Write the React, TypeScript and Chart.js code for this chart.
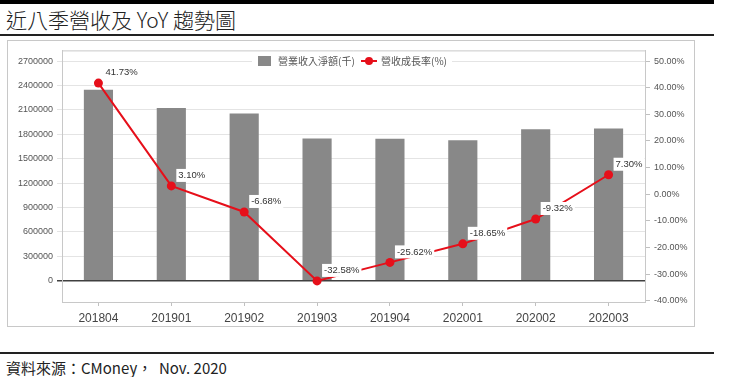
import React, { useEffect, useRef } from "react";
import { Chart, registerables } from "chart.js";

Chart.register(...registerables);

const categories = ["201804", "201901", "201902", "201903", "201904", "202001", "202002", "202003"];
const revenue = [2349000, 2123000, 2055000, 1748000, 1746000, 1727000, 1862000, 1871000];
const yoy = [41.73, 3.1, -6.68, -32.58, -25.62, -18.65, -9.32, 7.3];
const leftTicks = [0, 300000, 600000, 900000, 1200000, 1500000, 1800000, 2100000, 2400000, 2700000];
const rightTicks = [-40, -30, -20, -10, 0, 10, 20, 30, 40, 50];
const legendLabels = ["營業收入淨額(千)", "營收成長率(%)"];

const BAR = "#888888";
const RED = "#e60f1a";
const TICK_FONT = "'Liberation Sans', Arial, sans-serif";
const CJK = "'Noto Sans CJK TC', 'Noto Sans', sans-serif";

const extras = {
  id: "extras",
  beforeDatasetsDraw(chart: any) {
    const { ctx, chartArea: a } = chart;
    ctx.save();
    ctx.strokeStyle = "#c8c8c8";
    ctx.lineWidth = 1;
    ctx.beginPath();
    ctx.moveTo(a.left, a.top + 0.5);
    ctx.lineTo(a.right, a.top + 0.5);
    ctx.stroke();
    ctx.restore();
  },
  afterDatasetsDraw(chart: any) {
    const { ctx } = chart;
    const meta = chart.getDatasetMeta(1);
    ctx.save();
    ctx.font = `9.5px ${TICK_FONT}`;
    ctx.textBaseline = "middle";
    ctx.textAlign = "left";
    meta.data.forEach((pt: any, i: number) => {
      const txt = yoy[i].toFixed(2) + "%";
      const w = ctx.measureText(txt).width;
      const x = pt.x + 7;
      const y = pt.y - 10.5;
      ctx.fillStyle = "#ffffff";
      ctx.fillRect(x - 2, y - 6.5, w + 4, 13);
      ctx.fillStyle = "#333333";
      ctx.fillText(txt, x, y);
    });
    // legend
    const ly = 20;
    ctx.font = `10px ${CJK}`;
    ctx.fillStyle = "#ffffff";
    ctx.fillRect(244, ly - 7, 200, 14);
    ctx.fillStyle = BAR;
    ctx.fillRect(250, ly - 5, 13, 10);
    ctx.fillStyle = "#555555";
    ctx.fillText(legendLabels[0], 270, ly);
    ctx.strokeStyle = RED;
    ctx.lineWidth = 2;
    ctx.beginPath();
    ctx.moveTo(353, ly);
    ctx.lineTo(369, ly);
    ctx.stroke();
    ctx.fillStyle = RED;
    ctx.beginPath();
    ctx.arc(361, ly, 4, 0, Math.PI * 2);
    ctx.fill();
    ctx.fillStyle = "#555555";
    ctx.fillText(legendLabels[1], 373, ly);
    ctx.restore();
  },
};

export default function App() {
  const ref = useRef<HTMLCanvasElement>(null);
  useEffect(() => {
    if (!ref.current) return;
    const chart = new Chart(ref.current, {
      type: "bar",
      data: {
        labels: categories,
        datasets: [
          {
            type: "bar",
            label: legendLabels[0],
            data: revenue,
            backgroundColor: BAR,
            borderColor: "#7a7a7a",
            borderWidth: 0,
            barPercentage: 0.4,
            categoryPercentage: 1,
            yAxisID: "y",
            order: 2,
          },
          {
            type: "line",
            label: legendLabels[1],
            data: yoy,
            borderColor: RED,
            backgroundColor: RED,
            borderWidth: 2,
            pointRadius: 4.5,
            pointBackgroundColor: RED,
            pointBorderWidth: 0,
            yAxisID: "y1",
            order: 1,
          },
        ] as any,
      },
      options: {
        animation: false,
        responsive: false,
        maintainAspectRatio: false,
        layout: { padding: { top: 9, left: 0, right: 0, bottom: 0 } },
        plugins: { legend: { display: false }, tooltip: { enabled: false }, title: { display: false } },
        scales: {
          x: {
            offset: true,
            grid: { offset: false, drawOnChartArea: false, drawTicks: true, tickLength: 4, color: "#c0c0c0" },
            border: { color: "#c8c8c8" },
            ticks: { color: "#444", font: { family: TICK_FONT, size: 12 }, padding: 5, maxRotation: 0 },
            afterFit: (s: any) => { s.height = 24; },
          },
          y: {
            position: "left",
            min: -261500,
            max: 2831800,
            afterBuildTicks: (s: any) => { s.ticks = leftTicks.map((v) => ({ value: v })); },
            grid: {
              color: (c: any) => (c.tick && c.tick.value === 0 ? "#404040" : "#e4e4e4"),
              lineWidth: (c: any) => (c.tick && c.tick.value === 0 ? 1.5 : 1),
              tickLength: 5,
            },
            border: { color: "#c8c8c8" },
            ticks: { color: "#555", font: { family: TICK_FONT, size: 9 }, padding: 4, callback: (v: any) => String(v) },
            afterFit: (s: any) => { s.width = 54; },
          },
          y1: {
            position: "right",
            min: -40.5,
            max: 54,
            afterBuildTicks: (s: any) => { s.ticks = rightTicks.map((v) => ({ value: v })); },
            grid: { drawOnChartArea: false, tickLength: 5, color: "#c0c0c0" },
            border: { color: "#c8c8c8" },
            ticks: { color: "#555", font: { family: TICK_FONT, size: 9 }, padding: 4, callback: (v: any) => Number(v).toFixed(2) + "%" },
            afterFit: (s: any) => { s.width = 49; },
          },
        },
      } as any,
      plugins: [extras],
    });
    return () => chart.destroy();
  }, []);

  return (
    <div style={{ position: "absolute", left: 0, top: 0, width: 738, height: 377, background: "#fff", overflow: "hidden" }}>
      <div style={{ position: "absolute", left: 0, top: 0, width: 714, height: 4, background: "#000" }} />
      <div style={{ position: "absolute", left: 6, top: 7, height: 24, lineHeight: "24px", fontSize: 21, fontWeight: 300, fontFamily: CJK, color: "#222", whiteSpace: "nowrap" }}>
        近八季營收及 YoY 趨勢圖
      </div>
      <div style={{ position: "absolute", left: 0, top: 34, width: 714, height: 2, background: "#222" }} />
      <div style={{ position: "absolute", left: 7, top: 40, width: 688, height: 287, border: "1px solid #c8c8c8", boxSizing: "border-box" }} />
      <canvas ref={ref} width={686} height={285} style={{ position: "absolute", left: 8, top: 41, width: 686, height: 285 }} />
      <div style={{ position: "absolute", left: 0, top: 352, width: 714, height: 1.5, background: "#222" }} />
      <div style={{ position: "absolute", left: 6, top: 358, height: 20, lineHeight: "20px", fontSize: 15, fontFamily: CJK, color: "#222", whiteSpace: "nowrap" }}>
        資料來源：CMoney，&nbsp;&nbsp;Nov. 2020
      </div>
    </div>
  );
}
